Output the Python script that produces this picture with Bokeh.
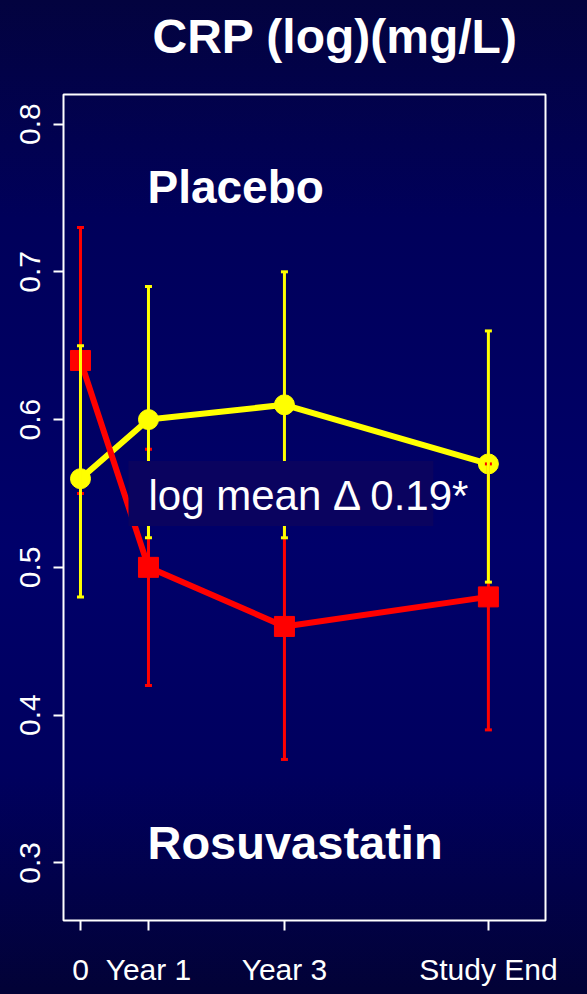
from bokeh.plotting import figure
from bokeh.models import Range1d, FixedTicker, Label, BoxAnnotation, Title
from bokeh.embed import file_html
from bokeh.resources import INLINE

# Visit positions (years) and their axis labels
visits = [0, 1, 3, 6]
visit_labels = ["0", "Year 1", "Year 3", "Study End"]

# Placebo: mean log CRP with interval bounds
placebo_mean = [0.56, 0.60, 0.61, 0.57]
placebo_low = [0.48, 0.52, 0.52, 0.49]
placebo_high = [0.65, 0.69, 0.70, 0.66]

# Rosuvastatin: mean log CRP with interval bounds
rosu_mean = [0.64, 0.50, 0.46, 0.48]
rosu_low = [0.55, 0.42, 0.37, 0.39]
rosu_high = [0.73, 0.58, 0.55, 0.57]

y_ticks = [0.3, 0.4, 0.5, 0.6, 0.7, 0.8]

FONT = "Liberation Sans"
YELLOW = "#ffff00"
RED = "#ff0000"

p = figure(
    width=587, height=994,
    x_range=Range1d(-0.25, 6.84), y_range=Range1d(0.261, 0.820),
    output_backend="svg", toolbar_location=None,
    min_border_left=63, min_border_right=42,
    min_border_top=94, min_border_bottom=74,
)
p.title = Title(text="CRP (log)(mg/L)", align="left", offset=89,
                vertical_align="top", standoff=18,
                padding=dict(left=0, right=0, top=0, bottom=21),
                text_color="white", text_font=FONT,
                text_font_style="bold", text_font_size="48px")
p.styles = {
    "background-image": "linear-gradient(to bottom, #03033f 0%, #00005a 22%, #00006a 55%, #00005e 78%, #020236 100%)",
}
p.background_fill_alpha = 0
p.border_fill_alpha = 0
p.outline_line_color = "white"
p.outline_line_width = 2
p.xgrid.visible = False
p.ygrid.visible = False

for ax in (p.xaxis[0], p.yaxis[0]):
    ax.axis_line_color = None
    ax.major_tick_line_color = "white"
    ax.major_tick_line_width = 2
    ax.major_tick_in = 0
    ax.major_tick_out = 10
    ax.minor_tick_line_color = None
    ax.major_label_text_color = "white"
    ax.major_label_text_font = FONT
    ax.major_label_text_font_size = "30px"

p.xaxis.ticker = FixedTicker(ticks=visits)
p.xaxis.major_label_overrides = {v: s for v, s in zip(visits, visit_labels)}
p.xaxis.major_label_standoff = 22

p.yaxis.ticker = FixedTicker(ticks=y_ticks)
p.yaxis.major_label_overrides = {t: f"{t:.1f}" for t in y_ticks}
p.yaxis.major_label_orientation = "vertical"
p.yaxis.major_label_standoff = 13

# Placebo line and points
p.line(visits, placebo_mean, line_color=YELLOW, line_width=6)
p.scatter(visits, placebo_mean, marker="circle", size=20,
          fill_color=YELLOW, line_color=YELLOW)

# Rosuvastatin line and points
p.line(visits, rosu_mean, line_color=RED, line_width=6)
p.scatter(visits, rosu_mean, marker="square", size=20,
          fill_color=RED, line_color=RED)

# Error bars: rosuvastatin first, placebo on top
for low, high, col in ((rosu_low, rosu_high, RED), (placebo_low, placebo_high, YELLOW)):
    p.segment(x0=visits, y0=low, x1=visits, y1=high, line_color=col, line_width=3)
    p.scatter(visits, low, marker="dash", size=7, line_color=col, line_width=3)
    p.scatter(visits, high, marker="dash", size=7, line_color=col, line_width=3)

# Shaded box behind the difference annotation
p.add_layout(BoxAnnotation(left=0.706, right=5.19, bottom=0.528, top=0.572,
                           fill_color="#0a035f", fill_alpha=1.0,
                           line_color=None))

p.add_layout(Label(x=1.0, y=0.5485, text="log mean \u0394 0.19*",
                   text_color="white", text_font=FONT,
                   text_font_size="42px", text_baseline="alphabetic"))

p.add_layout(Label(x=0.985, y=0.7575, text="Placebo",
                   text_color="white", text_font=FONT, text_font_style="bold",
                   text_font_size="46px", text_baseline="alphabetic"))

p.add_layout(Label(x=0.985, y=0.3135, text="Rosuvastatin",
                   text_color="white", text_font=FONT, text_font_style="bold",
                   text_font_size="47px", text_baseline="alphabetic"))

open("out.html", "w").write(file_html(p, INLINE))
